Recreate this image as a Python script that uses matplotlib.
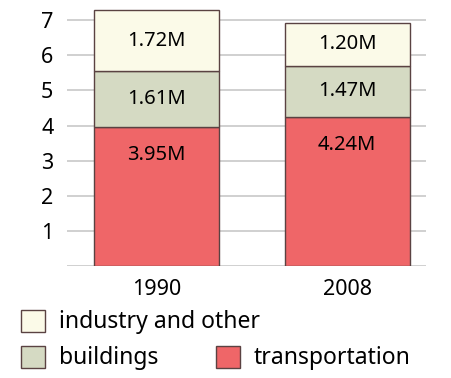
import numpy as np
import matplotlib.pyplot as plt
from matplotlib.patches import Patch

plt.rcParams['font.family'] = ['Noto Sans', 'DejaVu Sans']

years = ['1990', '2008']
transportation = [3.95, 4.24]
buildings = [1.61, 1.47]
industry = [1.72, 1.20]

c_trans = '#ef6668'
c_build = '#d5dac3'
c_ind = '#fbfae8'
edge = '#5a4242'

fig = plt.figure(figsize=(4.51, 3.78), dpi=100)
ax = fig.add_axes([0.149, 0.296, 0.796, 0.683])

x = np.arange(len(years))
w = 0.656
b1 = np.array(transportation)
b2 = b1 + np.array(buildings)

ax.bar(x, transportation, w, color=c_trans, edgecolor=edge, linewidth=1, zorder=3)
ax.bar(x, buildings, w, bottom=b1, color=c_build, edgecolor=edge, linewidth=1, zorder=3)
ax.bar(x, industry, w, bottom=b2, color=c_ind, edgecolor=edge, linewidth=1, zorder=3)

# value labels: near the top of the tall segment, centred in the others
for i in range(len(years)):
    ax.text(x[i], transportation[i] - 0.78, f'{transportation[i]:.2f}M',
            ha='center', va='center', fontsize=14.5, zorder=4)
    ax.text(x[i], b1[i] + buildings[i] / 2, f'{buildings[i]:.2f}M',
            ha='center', va='center', fontsize=14.5, zorder=4)
    ax.text(x[i], b2[i] + industry[i] / 2, f'{industry[i]:.2f}M',
            ha='center', va='center', fontsize=14.5, zorder=4)

ax.set_xlim(-0.47, 1.415)
ax.set_ylim(0, 7.35)
ax.set_yticks(range(0, 8))
ax.set_yticklabels([''] + [str(v) for v in range(1, 8)])
ax.set_xticks(x)
ax.set_xticklabels(years)
ax.tick_params(axis='both', length=0, labelsize=15.5)
ax.tick_params(axis='y', pad=10)
ax.tick_params(axis='x', pad=9)
ax.grid(axis='y', color='#c8c8c8', linewidth=1.2, zorder=0)
for s in ax.spines.values():
    s.set_visible(False)

# legend in two rows: industry alone on top, the other two below
leg_kw = dict(frameon=False, fontsize=16.5, handlelength=1.05, handleheight=1.1,
              handletextpad=0.6, borderpad=0, borderaxespad=0, loc='center left')
top = [Patch(facecolor=c_ind, edgecolor=edge, label='industry and other')]
bottom = [Patch(facecolor=c_build, edgecolor=edge, label='buildings'),
          Patch(facecolor=c_trans, edgecolor=edge, label='transportation')]
fig.legend(handles=top, bbox_to_anchor=(0.047, 56 / 378), **leg_kw)
fig.legend(handles=bottom, ncol=2, columnspacing=2.5,
           bbox_to_anchor=(0.047, 20 / 378), **leg_kw)

fig.savefig('out.png', dpi=100)
